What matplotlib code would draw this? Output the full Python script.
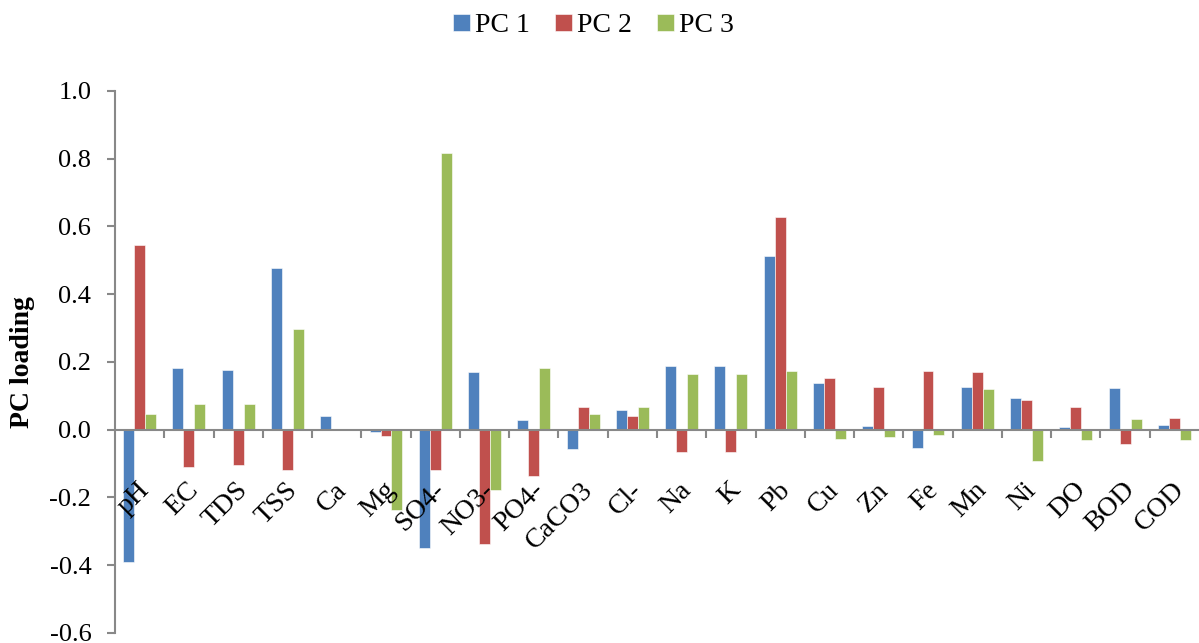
import numpy as np
import matplotlib
matplotlib.use('Agg')
import matplotlib.pyplot as plt
import matplotlib.transforms as mtransforms

plt.rcParams['font.family'] = ['Liberation Serif', 'DejaVu Serif']

params = ['pH', 'EC', 'TDS', 'TSS', 'Ca', 'Mg', 'SO4-', 'NO3-', 'PO4-', 'CaCO3', 'Cl-',
          'Na', 'K', 'Pb', 'Cu', 'Zn', 'Fe', 'Mn', 'Ni', 'DO', 'BOD', 'COD']

pc1 = [-0.391, 0.181, 0.177, 0.478, 0.041, -0.008, -0.349, 0.169, 0.028, -0.057, 0.057,
       0.189, 0.189, 0.511, 0.137, 0.010, -0.054, 0.127, 0.093, 0.007, 0.122, 0.014]
pc2 = [0.544, -0.109, -0.103, -0.119, 0.0, -0.019, -0.119, -0.337, -0.137, 0.068, 0.039,
       -0.065, -0.065, 0.627, 0.151, 0.127, 0.173, 0.169, 0.086, 0.068, -0.043, 0.035]
pc3 = [0.046, 0.076, 0.076, 0.297, 0.0, -0.236, 0.815, -0.178, 0.181, 0.046, 0.068,
       0.163, 0.163, 0.173, -0.029, -0.023, -0.015, 0.119, -0.094, -0.032, 0.031, -0.032]

series = [('PC 1', pc1, '#4F81BD'), ('PC 2', pc2, '#C0504D'), ('PC 3', pc3, '#9BBB59')]

fig = plt.figure(figsize=(11.99, 6.43), dpi=100)
ax = fig.add_axes([0.0959, 0.0156, 0.9041, 0.8433])

x = np.arange(len(params))
w = 1 / 4.5
for i, (name, vals, col) in enumerate(series):
    ax.bar(x + (i - 1) * w, vals, width=w, color=col, label=name, edgecolor='white', linewidth=0.4)

ax.set_xlim(-0.5, len(params) - 0.5)
ax.set_ylim(-0.6, 1.0)
yt = np.arange(-0.6, 1.01, 0.2)
ax.set_yticks(yt)
ax.set_yticklabels(['%.1f' % v for v in yt], fontsize=19)

for s in ['top', 'right']:
    ax.spines[s].set_visible(False)
ax.spines['bottom'].set_position(('data', 0))
ax.spines['bottom'].set_color('#888888')
ax.spines['bottom'].set_linewidth(1.5)
ax.spines['bottom'].set_zorder(3)
ax.spines['left'].set_color('#888888')
ax.spines['left'].set_linewidth(1.5)

ax.set_xticks(x)
ax.set_xticklabels(params, rotation=45, ha='right', va='center', rotation_mode='anchor', fontsize=20)
ax.tick_params(axis='x', which='major', length=0, pad=12)
ax.set_xticks(np.arange(0.5, len(params) - 0.5, 1), minor=True)
ax.tick_params(axis='x', which='minor', length=6, width=1.5, color='#888888', direction='out')
ax.tick_params(axis='y', length=6, width=1.5, color='#888888', direction='out', pad=11)
# push the rotated category names below the zero line, as in the original
offset = mtransforms.ScaledTranslation(0.06, -0.40, fig.dpi_scale_trans)
for lbl in ax.get_xticklabels():
    lbl.set_transform(lbl.get_transform() + offset)

ax.set_ylabel('PC loading', fontsize=20, fontweight='bold')
ax.yaxis.set_label_coords(-0.074, 0.5)

fig.legend(loc='upper center', bbox_to_anchor=(0.495, 1.018), ncol=3, frameon=False, fontsize=20,
           handlelength=0.6, handleheight=0.6, handletextpad=0.2, columnspacing=0.9)

fig.savefig('out.png', dpi=100)
